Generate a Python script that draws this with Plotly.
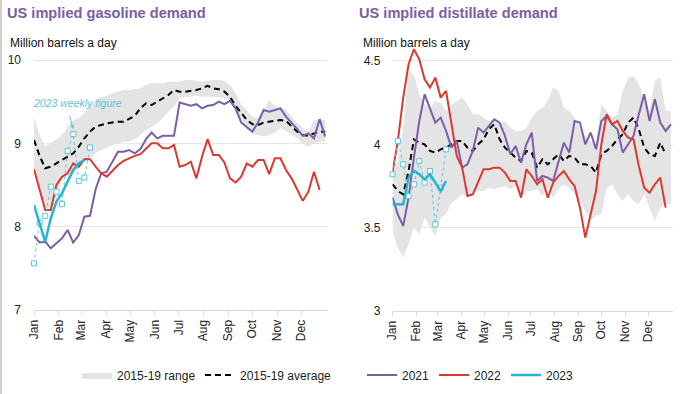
import pandas as pd
import plotly.graph_objects as go

# ---------------- data ----------------
months = ["Jan", "Feb", "Mar", "Apr", "May", "Jun", "Jul", "Aug", "Sep", "Oct", "Nov", "Dec"]

# Gasoline (million b/d), weekly
gas_range_low = [8.70, 8.45, 8.22, 8.22, 8.40, 8.55, 8.62, 8.65, 8.70, 8.78, 8.82, 8.88, 8.92, 8.95,
                 8.98, 9.00, 9.02, 9.02, 9.05, 9.10, 9.16, 9.20, 9.24, 9.30, 9.38, 9.44, 9.54, 9.56,
                 9.56, 9.57, 9.56, 9.56, 9.56, 9.55, 9.55, 9.50, 9.38, 9.25, 9.17, 9.12, 9.10, 9.08,
                 9.10, 9.13, 9.18, 9.15, 9.10, 9.06, 9.00, 8.96, 9.00, 9.02, 9.02]
gas_range_high = [9.32, 9.10, 8.96, 9.00, 9.05, 9.10, 9.20, 9.28, 9.30, 9.36, 9.45, 9.52, 9.55, 9.57,
                  9.60, 9.62, 9.64, 9.64, 9.65, 9.66, 9.70, 9.72, 9.72, 9.72, 9.74, 9.74, 9.74, 9.76,
                  9.76, 9.75, 9.74, 9.75, 9.76, 9.76, 9.75, 9.70, 9.60, 9.47, 9.40, 9.32, 9.30, 9.40,
                  9.52, 9.45, 9.42, 9.40, 9.32, 9.25, 9.18, 9.14, 9.28, 9.28, 9.28]
gas_avg = [9.04, 8.85, 8.70, 8.72, 8.76, 8.80, 8.84, 8.88, 8.96, 9.06, 9.14, 9.20, 9.22, 9.24,
           9.25, 9.26, 9.26, 9.30, 9.33, 9.42, 9.48, 9.46, 9.50, 9.53, 9.58, 9.64, 9.62, 9.62,
           9.63, 9.64, 9.66, 9.69, 9.66, 9.65, 9.62, 9.56, 9.45, 9.36, 9.28, 9.23, 9.22, 9.25,
           9.26, 9.27, 9.28, 9.27, 9.20, 9.14, 9.10, 9.09, 9.12, 9.14, 9.14]
gas_2021 = [7.89, 7.81, 7.82, 7.74, 7.80, 7.86, 7.96, 7.81, 7.90, 8.12, 8.13, 8.45, 8.64, 8.66,
            8.78, 8.90, 8.90, 8.92, 8.88, 8.93, 9.05, 9.13, 9.06, 9.09, 9.09, 9.09, 9.49, 9.47,
            9.45, 9.47, 9.42, 9.45, 9.46, 9.50, 9.47, 9.51, 9.42, 9.25, 9.19, 9.14, 9.25, 9.40,
            9.38, 9.40, 9.42, 9.32, 9.25, 9.17, 9.09, 9.12, 9.06, 9.29, 9.08]
gas_2022 = [8.69, 8.45, 8.20, 8.20, 8.50, 8.60, 8.64, 8.76, 8.72, 8.81, 8.81, 8.72, 8.64, 8.60,
            8.67, 8.74, 8.79, 8.82, 8.85, 8.87, 8.94, 9.00, 9.00, 8.94, 8.94, 8.98, 8.72, 8.74,
            8.78, 8.58, 8.84, 9.05, 8.86, 8.86, 8.77, 8.58, 8.53, 8.60, 8.76, 8.72, 8.80, 8.80,
            8.63, 8.82, 8.82, 8.68, 8.58, 8.44, 8.31, 8.42, 8.66, 8.44]
gas_2023 = [8.26, 8.05, 7.82, 8.10, 8.30, 8.40, 8.55, 8.68, 8.76, 8.80]
gas_2023_weekly = [7.56, 8.05, 8.13, 8.48, 8.42, 8.27, 8.91, 9.11, 8.55, 8.59, 8.95]

# Distillate (million b/d), weekly
dist_range_low = [3.48, 3.38, 3.32, 3.40, 3.50, 3.46, 3.56, 3.50, 3.45, 3.56, 3.58, 3.65, 3.67, 3.70,
                  3.68, 3.70, 3.72, 3.72, 3.74, 3.73, 3.74, 3.75, 3.73, 3.75, 3.68, 3.72, 3.72, 3.73,
                  3.69, 3.74, 3.68, 3.73, 3.76, 3.74, 3.70, 3.66, 3.60, 3.55, 3.57, 3.58, 3.74, 3.76,
                  3.70, 3.66, 3.70, 3.66, 3.64, 3.70, 3.62, 3.54, 3.62, 3.64, 3.64]
dist_range_high = [3.85, 3.90, 4.10, 4.44, 4.42, 4.30, 4.24, 4.22, 4.26, 4.25, 4.20, 4.24, 4.26, 4.28,
                   4.24, 4.18, 4.18, 4.16, 4.14, 4.14, 4.12, 4.14, 4.10, 4.08, 4.08, 4.10, 4.16, 4.20,
                   4.22, 4.26, 4.34, 4.32, 4.22, 4.20, 4.16, 4.10, 4.05, 4.02, 4.00, 4.24, 4.20, 4.16,
                   4.18, 4.32, 4.40, 4.41, 4.36, 4.28, 4.20, 4.38, 4.40, 4.20, 4.20]
dist_avg = [3.76, 3.72, 3.70, 3.84, 4.03, 4.01, 4.00, 3.96, 3.95, 3.97, 3.98, 4.00, 4.02, 4.02,
            3.98, 3.96, 4.00, 4.03, 4.09, 4.12, 4.03, 3.98, 3.95, 3.92, 3.90, 3.96, 3.95, 3.86,
            3.91, 3.88, 3.91, 3.94, 3.90, 3.93, 3.92, 3.88, 3.88, 3.87, 3.83, 3.94, 3.96, 3.99,
            4.03, 4.06, 4.13, 4.16, 4.09, 3.98, 3.94, 3.93, 4.01, 3.94]
dist_2021 = [3.68, 3.58, 3.51, 3.68, 3.92, 4.14, 4.30, 4.22, 4.13, 4.16, 4.08, 3.98, 4.02, 3.86,
             3.88, 3.96, 4.10, 4.07, 4.11, 4.15, 4.13, 4.05, 3.94, 3.99, 3.89, 4.00, 4.07, 3.78,
             3.81, 3.80, 3.78, 3.89, 4.01, 3.95, 4.14, 4.13, 4.00, 4.07, 3.97, 4.14, 4.17, 4.12,
             4.09, 3.95, 4.00, 4.05, 4.18, 4.30, 4.14, 4.27, 4.13, 4.08, 4.12]
dist_2022 = [3.83, 4.02, 4.28, 4.48, 4.57, 4.51, 4.39, 4.34, 4.40, 4.28, 4.32, 4.12, 3.93, 3.86,
             3.69, 3.70, 3.77, 3.85, 3.85, 3.86, 3.86, 3.83, 3.78, 3.78, 3.68, 3.85, 3.81, 3.76,
             3.79, 3.68, 3.77, 3.81, 3.84, 3.79, 3.75, 3.62, 3.44, 3.58, 3.72, 4.00, 4.18, 4.12,
             4.14, 4.08, 4.04, 4.03, 3.87, 3.74, 3.71, 3.76, 3.80, 3.62]
dist_2023 = [3.64, 3.64, 3.64, 3.80, 3.84, 3.82, 3.79, 3.82, 3.77, 3.72, 3.78]
dist_2023_weekly = [3.82, 4.02, 3.88, 3.69, 3.76, 3.90, 3.77, 3.84, 3.52, 3.74, 3.97]

# ---------------- styling ----------------
PURPLE = "#7b5ea7"
RED = "#d93a2f"
BLUE = "#27b3d2"
LBLUE = "#5ec4de"
BAND = "#e4e4e4"
GRID = "#e6e6e6"
FONT = "Liberation Sans, Arial, sans-serif"

weeks = pd.date_range("2021-01-01", periods=53, freq="7D")


def wk(values):
    return weeks[: len(values)]


fig = go.Figure()


def add_panel(xa, ya, low, high, avg, y21, y22, y23, y23w, show):
    fig.add_trace(go.Scatter(x=wk(low), y=low, mode="lines", line=dict(width=0, color=BAND),
                             showlegend=False, hoverinfo="skip", xaxis=xa, yaxis=ya))
    fig.add_trace(go.Scatter(x=wk(high), y=high, mode="lines", line=dict(width=0, color=BAND),
                             fill="tonexty", fillcolor=BAND, name="2015-19 range",
                             showlegend=show, legend="legend", xaxis=xa, yaxis=ya))
    fig.add_trace(go.Scatter(x=wk(avg), y=avg, mode="lines",
                             line=dict(color="black", width=2, dash="6px,4px"),
                             name="2015-19 average", showlegend=show, legend="legend3",
                             xaxis=xa, yaxis=ya))
    fig.add_trace(go.Scatter(x=wk(y21), y=y21, mode="lines", line=dict(color=PURPLE, width=2),
                             name="2021", showlegend=show, legend="legend2", legendrank=3,
                             xaxis=xa, yaxis=ya))
    fig.add_trace(go.Scatter(x=wk(y22), y=y22, mode="lines", line=dict(color=RED, width=2),
                             name="2022", showlegend=show, legend="legend2", legendrank=4,
                             xaxis=xa, yaxis=ya))
    fig.add_trace(go.Scatter(x=wk(y23w), y=y23w, mode="lines+markers",
                             line=dict(color=LBLUE, width=1, dash="dot"),
                             marker=dict(symbol="square", size=5, color="white",
                                         line=dict(color=LBLUE, width=1)),
                             cliponaxis=False, showlegend=False, xaxis=xa, yaxis=ya))
    fig.add_trace(go.Scatter(x=wk(y23), y=y23, mode="lines", line=dict(color=BLUE, width=2.5),
                             name="2023", showlegend=show, legend="legend2", legendrank=5,
                             xaxis=xa, yaxis=ya))


add_panel("x", "y", gas_range_low, gas_range_high, gas_avg, gas_2021, gas_2022, gas_2023,
          gas_2023_weekly, True)
add_panel("x2", "y2", dist_range_low, dist_range_high, dist_avg, dist_2021, dist_2022, dist_2023,
          dist_2023_weekly, False)

W, H = 700, 394


def px_x(a, b):
    return [a / W, b / W]


def px_y(top, bottom):
    return [(H - bottom) / H, (H - top) / H]


month_ticks = pd.date_range("2021-01-01", periods=12, freq="MS")

xcommon = dict(type="date", tickvals=month_ticks, ticktext=months, tickangle=-90,
               showgrid=False, showline=True, linecolor="#d9d9d9", linewidth=1,
               ticks="outside", ticklen=4, tickcolor="#d9d9d9", automargin=False,
               tickfont=dict(size=12, color="#222222", family=FONT), zeroline=False)
ycommon = dict(showgrid=True, gridcolor=GRID, gridwidth=1, zeroline=False, showline=False,
               ticks="", automargin=False, tickfont=dict(size=12, color="#222222", family=FONT))

legend_common = dict(orientation="h", y=(H - 375) / H, xanchor="left", yanchor="middle",
                     font=dict(size=12, family=FONT, color="#222222"), traceorder="normal",
                     bgcolor="rgba(0,0,0,0)", itemwidth=30, borderwidth=0)

fig.update_layout(
    template="none",
    width=W, height=H,
    margin=dict(l=0, r=0, t=0, b=0, pad=0, autoexpand=False),
    paper_bgcolor="white", plot_bgcolor="white",
    font=dict(family=FONT, size=12, color="#222222"),
    xaxis=dict(xcommon, domain=px_x(34, 327), anchor="y",
               range=["2021-01-01", "2022-01-02 06:00"]),
    yaxis=dict(ycommon, domain=px_y(40, 310), anchor="x", range=[7, 10 + 20 / 83.33],
               tickvals=[7, 8, 9, 10], ticklabelstandoff=12),
    xaxis2=dict(xcommon, domain=px_x(392.5, 672.5), anchor="y2",
                range=["2021-01-01", "2022-01-02"]),
    yaxis2=dict(ycommon, domain=px_y(40, 311), anchor="x2", range=[3, 3 + 271 / 166.7],
                tickvals=[3, 3.5, 4, 4.5], ticklabelstandoff=11),
    legend=dict(legend_common, x=77 / W),
    legend3=dict(legend_common, x=200 / W),
    legend2=dict(legend_common, x=362 / W, entrywidth=27),
    showlegend=True,
)

annotations = [
    dict(text="<b>US implied gasoline demand</b>", x=5 / W, y=(H - 13) / H, xref="paper",
         yref="paper", xanchor="left", yanchor="middle", showarrow=False,
         font=dict(size=14.6, color=PURPLE, family=FONT)),
    dict(text="<b>US implied distillate demand</b>", x=357 / W, y=(H - 13) / H, xref="paper",
         yref="paper", xanchor="left", yanchor="middle", showarrow=False,
         font=dict(size=14.6, color=PURPLE, family=FONT)),
    dict(text="Million barrels a day", x=8 / W, y=(H - 43) / H, xref="paper", yref="paper",
         xanchor="left", yanchor="middle", showarrow=False,
         font=dict(size=12, color="#111111", family=FONT)),
    dict(text="Million barrels a day", x=361 / W, y=(H - 43) / H, xref="paper", yref="paper",
         xanchor="left", yanchor="middle", showarrow=False,
         font=dict(size=12, color="#111111", family=FONT)),
    dict(text="<i>2023 weekly figure</i>", x=31 / W, y=(H - 103) / H, xref="paper", yref="paper",
         xanchor="left", yanchor="middle", showarrow=False,
         font=dict(size=10.5, color=LBLUE, family=FONT)),
    dict(text="", x=weeks[7], y=gas_2023_weekly[7] + 0.06, xref="x", yref="y",
         ax=-4, ay=-15, showarrow=True, arrowhead=2, arrowsize=0.8, arrowwidth=1,
         arrowcolor=LBLUE),
]
fig.update_layout(annotations=annotations)

fig.add_shape(type="line", xref="paper", yref="paper", x0=1 / W, x1=1 / W, y0=0, y1=1,
              line=dict(color="#d0d0d0", width=2))

fig.write_html(
    "out.html",
    config={"displayModeBar": False},
    post_script="document.body.style.margin='0';document.body.style.padding='0';",
)
